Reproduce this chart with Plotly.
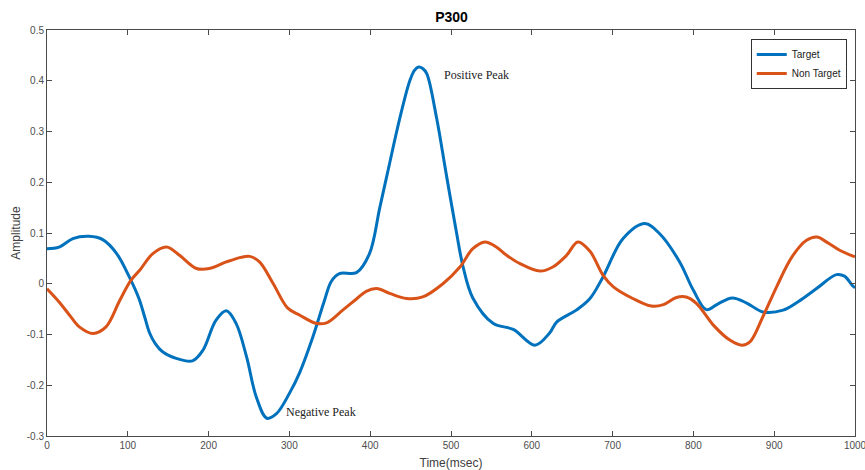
import plotly.graph_objects as go

# Grand-average ERP waveforms (P300 paradigm)
target_t = [0, 15, 32, 52, 69, 86, 102, 114, 121, 127, 134, 143, 160, 180, 193, 209,
            222, 234, 247, 259, 272, 284, 300, 313, 329, 343, 352, 362, 383, 399, 412,
            424, 436, 449, 455, 460, 465, 470, 482, 494, 507, 515, 527, 552, 577, 604,
            622, 631, 655, 672, 688, 713, 740, 758, 783, 800, 816, 830, 848, 866, 886,
            911, 930, 952, 977, 987, 997, 1000]
target_amp = [0.069, 0.072, 0.089, 0.0935, 0.087, 0.06, 0.013, -0.03, -0.066, -0.097,
              -0.118, -0.134, -0.147, -0.152, -0.131, -0.072, -0.053, -0.078, -0.144,
              -0.223, -0.265, -0.256, -0.216, -0.174, -0.105, -0.035, 0.005, 0.02,
              0.022, 0.059, 0.151, 0.237, 0.322, 0.40, 0.421, 0.427, 0.424, 0.414,
              0.328, 0.217, 0.099, 0.033, -0.028, -0.078, -0.09, -0.121, -0.097,
              -0.075, -0.052, -0.029, 0.013, 0.089, 0.1185, 0.099, 0.043, -0.013,
              -0.051, -0.04, -0.028, -0.038, -0.0555, -0.052, -0.035, -0.01, 0.018,
              0.015, -0.004, -0.008]

nontarget_t = [0, 15, 28, 40, 57, 73, 90, 104, 115, 131, 148, 164, 185, 201, 222, 240,
               251, 263, 280, 298, 313, 333, 346, 366, 383, 395, 408, 424, 445, 465, 490,
               511, 527, 542, 556, 569, 585, 610, 626, 643, 657, 672, 688, 701, 725, 748,
               763, 779, 791, 804, 825, 845, 860, 870, 886, 903, 922, 940, 953, 965, 981,
               1000]
nontarget_amp = [-0.01, -0.036, -0.062, -0.085, -0.098, -0.085, -0.033, 0.007, 0.027,
                 0.0595, 0.0724, 0.056, 0.03, 0.03, 0.043, 0.052, 0.054, 0.043, 0.0,
                 -0.048, -0.062, -0.078, -0.077, -0.052, -0.03, -0.015, -0.0095, -0.019,
                 -0.029, -0.026, 0.0, 0.033, 0.069, 0.0823, 0.0724, 0.056, 0.04, 0.025,
                 0.033, 0.056, 0.0823, 0.064, 0.017, -0.006, -0.029, -0.044, -0.041,
                 -0.027, -0.026, -0.039, -0.082, -0.111, -0.121, -0.1145, -0.065,
                 -0.006, 0.053, 0.0856, 0.092, 0.082, 0.066, 0.053]

x_ticks = [0, 100, 200, 300, 400, 500, 600, 700, 800, 900, 1000]
y_ticks = [-0.3, -0.2, -0.1, 0, 0.1, 0.2, 0.3, 0.4, 0.5]
y_tick_text = ["-0.3", "-0.2", "-0.1", "0", "0.1", "0.2", "0.3", "0.4", "0.5"]

peak_labels = ["Positive Peak", "Negative Peak"]
peak_pos = [(489, 0.412), (293, -0.2535)]

BLUE = "#0072BD"
ORANGE = "#D95319"
AXIS = "#4a4a4a"

fig = go.Figure()
fig.add_trace(go.Scatter(x=target_t, y=target_amp, mode="lines", name="Target",
                         line=dict(color=BLUE, width=3, shape="spline", smoothing=1.0)))
fig.add_trace(go.Scatter(x=nontarget_t, y=nontarget_amp, mode="lines", name="Non Target",
                         line=dict(color=ORANGE, width=3, shape="spline", smoothing=1.0)))

for text, (px, py) in zip(peak_labels, peak_pos):
    fig.add_annotation(x=px, y=py, text=text, showarrow=False, xanchor="left",
                       yanchor="middle",
                       font=dict(family="Liberation Serif", size=12, color="#222222"))

axis_common = dict(showline=True, linecolor=AXIS, linewidth=1, mirror="ticks",
                   ticks="inside", ticklen=5, tickcolor=AXIS, tickwidth=1,
                   showgrid=False, zeroline=False, ticklabeloverflow="allow",
                   tickfont=dict(family="Liberation Sans", size=10, color="#4d4d4d"))

fig.update_xaxes(range=[0, 1000], tickvals=x_ticks,
                 title=dict(text="Time(msec)", standoff=8,
                            font=dict(family="Liberation Sans", size=12, color="#404040")),
                 automargin=False, **axis_common)
fig.update_yaxes(range=[-0.3, 0.5], tickvals=y_ticks, ticktext=y_tick_text,
                 title=dict(text="Amplitude", standoff=3,
                            font=dict(family="Liberation Sans", size=12, color="#404040")),
                 automargin=False, **axis_common)

fig.update_layout(
    width=865, height=470,
    margin=dict(l=47, r=10, t=30, b=34),
    paper_bgcolor="white", plot_bgcolor="white",
    title=dict(text="<b>P300</b>", x=0.522, xanchor="center", y=0.964, yanchor="middle",
               font=dict(family="Liberation Sans", size=14, color="#000000")),
    legend=dict(x=0.9898, xanchor="right", y=0.978, yanchor="top",
                bgcolor="white", bordercolor="#333333", borderwidth=1,
                font=dict(family="Liberation Sans", size=10, color="#222222"),
                itemwidth=30, tracegroupgap=0),
    showlegend=True,
)

fig.write_html("out.html")
